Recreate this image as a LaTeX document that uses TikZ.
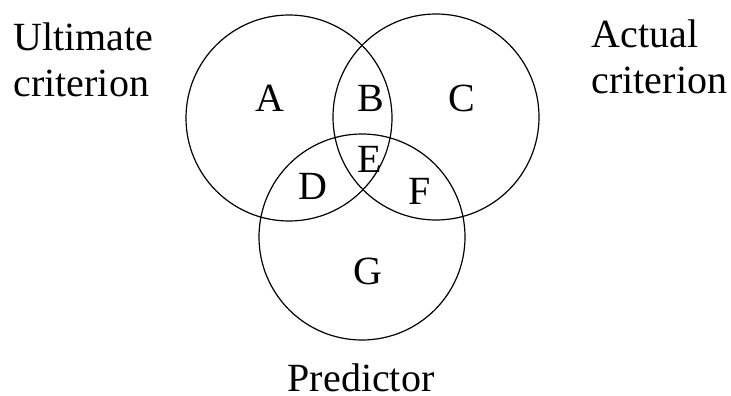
\documentclass[tikz,border=0pt]{standalone}
\usepackage{fontspec}
\setmainfont{Liberation Serif}
\begin{document}
\begin{tikzpicture}[x=1pt,y=-1pt,line width=1.2pt,
	every node/.style={font=\fontsize{40}{46}\selectfont,inner sep=0pt},
	set/.style={draw,circle,minimum size=206pt}]
	\useasboundingbox (0,0) rectangle (731,396);
	\path (289,118) node[set](ultimate){} (436,117) node[set](actual){} (362,237) node[set](predictor){};
	\foreach \x/\y/\gt in {270/98/A,371/98/B,462/98/C,313/186/D,370/159/E,420/191/F,368/271/G}\path (\x,\y) node(\gt){\gt};
	\path (13,22) node[anchor=north west,align=left](ultimatelabel){Ultimate\\criterion};
	\path (591,19) node[anchor=north west,align=left](actuallabel){Actual\\criterion};
	\path (361,391) node[anchor=base](predictorlabel){Predictor};
\end{tikzpicture}
\end{document}
